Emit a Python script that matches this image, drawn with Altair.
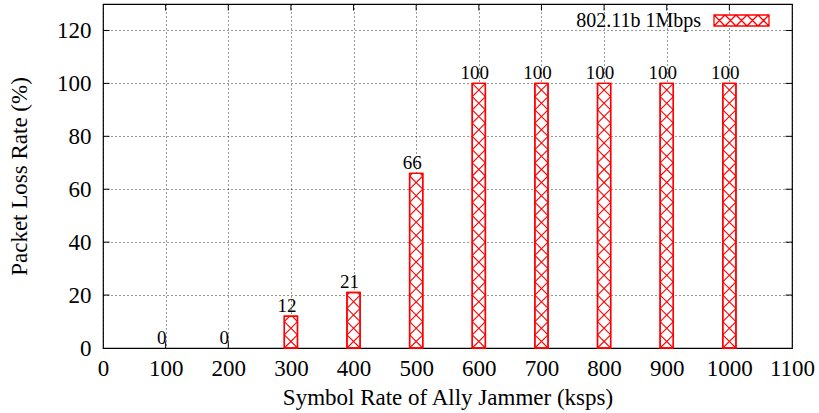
import altair as alt
import pandas as pd

# ---- data ----
rates = [100, 200, 300, 400, 500, 600, 700, 800, 900, 1000]
loss = [0, 0, 12, 21, 66, 100, 100, 100, 100, 100]
series_name = "802.11b 1Mbps"
x_ticks = [0, 100, 200, 300, 400, 500, 600, 700, 800, 900, 1000, 1100]
y_ticks = [0, 20, 40, 60, 80, 100, 120]

X_MAX, Y_MAX = 1100, 130
HALF_W = 10.5      # half bar width in x units
HATCH_H = 5.0      # hatch band height in y units

FONT = "Liberation Serif"
RED = "#ff0000"

bars = pd.DataFrame({"rate": rates, "loss": loss, "series": [series_name] * len(rates)})
bars["x0"] = bars["rate"] - HALF_W
bars["x1"] = bars["rate"] + HALF_W

# hatch segments derived from the bar values
segs = []
for r, v in zip(rates, loss):
    k = 0
    while k * HATCH_H < v:
        y0 = k * HATCH_H
        y1 = min((k + 1) * HATCH_H, v)
        f = (y1 - y0) / HATCH_H
        segs.append({"xa": r - HALF_W, "ya": y0, "xb": r - HALF_W + 2 * HALF_W * f, "yb": y1})
        segs.append({"xa": r + HALF_W, "ya": y0, "xb": r + HALF_W - 2 * HALF_W * f, "yb": y1})
        k += 1
hatch = pd.DataFrame(segs)

xs = alt.Scale(domain=[0, X_MAX], nice=False, zero=False)
ys = alt.Scale(domain=[0, Y_MAX], nice=False, zero=False)

W, H = 689, 344

base_axes = alt.Chart(bars).mark_point(opacity=0).encode(
    x=alt.X("rate:Q", scale=xs,
            axis=alt.Axis(values=x_ticks, title="Symbol Rate of Ally Jammer (ksps)",
                          grid=True, ticks=False, domain=False, labelPadding=9,
                          labelFlush=False, labelOverlap=False,
                          titlePadding=6, format="d")),
    y=alt.Y("loss:Q", scale=ys,
            axis=alt.Axis(values=y_ticks, title="Packet Loss Rate (%)",
                          grid=True, ticks=False, domain=False, labelPadding=12,
                          labelFlush=False, labelOverlap=False,
                          titlePadding=25, format="d")),
)

# inward tick marks (gnuplot style, mirrored)
xt = pd.DataFrame({"t": x_ticks[1:-1]})
yt = pd.DataFrame({"t": y_ticks[1:]})
tick_y_len = 6.5 * Y_MAX / H
tick_x_len = 6.5 * X_MAX / W
xtick_bot = alt.Chart(xt).mark_rule(color="black", strokeWidth=1).encode(
    x=alt.X("t:Q", scale=xs), y=alt.datum(0), y2=alt.datum(tick_y_len))
xtick_top = alt.Chart(xt).mark_rule(color="black", strokeWidth=1).encode(
    x=alt.X("t:Q", scale=xs), y=alt.datum(Y_MAX), y2=alt.datum(Y_MAX - tick_y_len))
ytick_l = alt.Chart(yt).mark_rule(color="black", strokeWidth=1).encode(
    y=alt.Y("t:Q", scale=ys), x=alt.datum(0), x2=alt.datum(tick_x_len))
ytick_r = alt.Chart(yt).mark_rule(color="black", strokeWidth=1).encode(
    y=alt.Y("t:Q", scale=ys), x=alt.datum(X_MAX), x2=alt.datum(X_MAX - tick_x_len))

legend_path = ("M-1,-0.2H1V0.2H-1Z"
               "M-1,-0.2L-0.6,0.2L-0.2,-0.2L0.2,0.2L0.6,-0.2L1,0.2"
               "M-1,0.2L-0.6,-0.2L-0.2,0.2L0.2,-0.2L0.6,0.2L1,-0.2")

nonzero = alt.datum.loss > 0

bar_layer = alt.Chart(bars).transform_filter(nonzero).mark_rect(
    fill="white", strokeWidth=1.4).encode(
    x=alt.X("x0:Q", scale=xs),
    x2="x1:Q",
    y=alt.Y("loss:Q", scale=ys),
    y2=alt.datum(0),
    stroke=alt.Stroke("series:N", scale=alt.Scale(domain=[series_name], range=[RED]),
                      legend=alt.Legend(title=None, orient="none", legendX=610, legendY=-12,
                                        symbolType=legend_path, symbolSize=3025,
                                        symbolStrokeWidth=1.3, symbolFillColor="white",
                                        labelAlign="right", labelOffset={"expr": "-69"},
                                        labelFont=FONT, labelFontSize=20,
                                        labelColor="black", labelBaseline="middle")),
)

hatch_layer = alt.Chart(hatch).mark_rule(color=RED, strokeWidth=1.1).encode(
    x=alt.X("xa:Q", scale=xs), y=alt.Y("ya:Q", scale=ys),
    x2="xb:Q", y2="yb:Q")

outline = alt.Chart(bars).transform_filter(nonzero).mark_rect(
    fill="transparent", stroke=RED, strokeWidth=1.4).encode(
    x=alt.X("x0:Q", scale=xs), x2="x1:Q", y=alt.Y("loss:Q", scale=ys), y2=alt.datum(0))

labels = alt.Chart(bars).mark_text(font=FONT, fontSize=19, baseline="alphabetic",
                                   dy=-4, dx=-4, color="black").encode(
    x=alt.X("rate:Q", scale=xs), y=alt.Y("loss:Q", scale=ys), text="loss:Q")

chart = alt.layer(base_axes, xtick_bot, xtick_top, ytick_l, ytick_r,
                  bar_layer, hatch_layer, outline, labels).properties(
    width=W, height=H,
    background="white",
    autosize=alt.AutoSizeParams(type="none"),
    padding={"left": 103, "top": 4, "right": 27, "bottom": 65},
).configure_view(stroke="black", strokeWidth=1.2).configure_axis(
    labelFont=FONT, labelFontSize=23, labelColor="black",
    titleFont=FONT, titleFontSize=23, titleFontWeight="normal", titleColor="black",
    gridColor="black", gridDash=[1, 3], gridOpacity=0.8, gridWidth=1,
)

chart.save("out.html", embed_options={"renderer": "svg", "actions": False})
